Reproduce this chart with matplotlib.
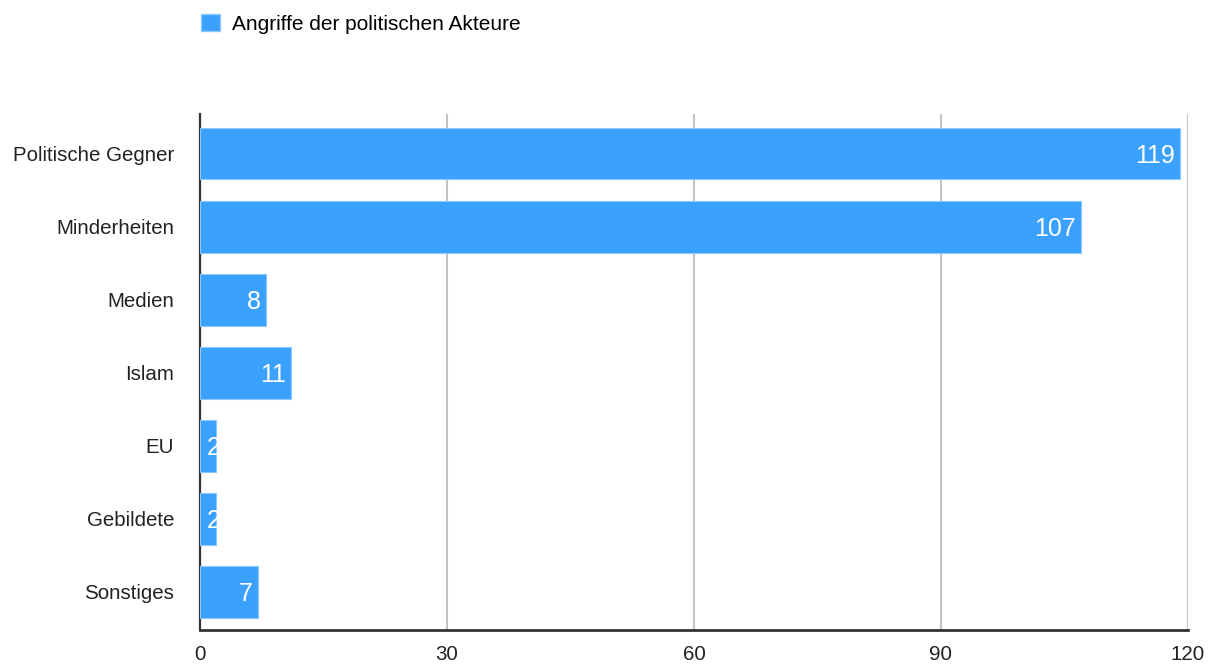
import matplotlib.pyplot as plt
from matplotlib.patches import Patch

kategorien = ['Politische Gegner', 'Minderheiten', 'Medien', 'Islam', 'EU', 'Gebildete', 'Sonstiges']
angriffe = [119, 107, 8, 11, 2, 2, 7]
x_ticks = [0, 30, 60, 90, 120]

farbe = '#3aa1ff'

plt.rcParams['font.family'] = ['Liberation Sans', 'DejaVu Sans']

fig = plt.figure(figsize=(12.12, 6.64), dpi=100)
ax = fig.add_axes([200 / 1212, 34 / 664, 988 / 1212, 516 / 664])

pos = list(range(len(kategorien)))
balken = ax.barh(pos, angriffe, height=0.71, color=farbe, edgecolor='#8cc8ff', linewidth=0.8, zorder=3)

# Werte in die Balken schreiben (weiss, rechtsbuendig); bei sehr kurzen
# Balken linksbuendig und am Balken abgeschnitten
for p, w, rect in zip(pos, angriffe, balken):
    if w >= 5:
        t = ax.text(w - 0.6, p + 0.03, str(w), color='white', fontsize=18, ha='right', va='center', zorder=4)
    else:
        t = ax.text(0.85, p + 0.03, str(w), color='white', fontsize=18, ha='left', va='center', zorder=4)
        t.set_clip_path(rect)

ax.set_ylim(len(kategorien) - 0.48, -0.54)
ax.set_xlim(0, 120)
ax.set_yticks(pos)
ax.set_yticklabels(kategorien, fontsize=14.8, color='#222222')
ax.set_xticks(x_ticks)
ax.set_xticklabels([str(t) for t in x_ticks], fontsize=14.8, color='#222222')
ax.tick_params(axis='y', length=0, pad=18.5)
ax.tick_params(axis='x', length=0, pad=11)

ax.grid(axis='x', color='#c4c4c4', linewidth=1.5, zorder=0)
ax.spines['top'].set_visible(False)
ax.spines['right'].set_visible(False)
ax.spines['left'].set_color('#333333')
ax.spines['left'].set_linewidth(1.6)
ax.spines['bottom'].set_color('#333333')
ax.spines['bottom'].set_linewidth(2)

fig.legend(handles=[Patch(facecolor=farbe, edgecolor='#8cc8ff', label='Angriffe der politischen Akteure')],
           loc='center left', bbox_to_anchor=(182 / 1212, 1 - 24 / 664), frameon=False,
           fontsize=15, handlelength=0.9, handleheight=0.9, handletextpad=0.6)

fig.savefig('out.png', dpi=100)
